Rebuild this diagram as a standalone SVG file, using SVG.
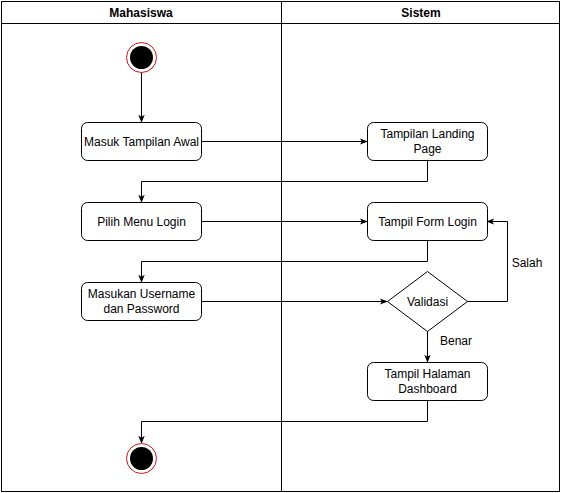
<svg xmlns="http://www.w3.org/2000/svg" width="561" height="493" viewBox="0 0 561 493">
  <style>
    text { font-family: "Liberation Sans", Arial, sans-serif; font-size: 12px; fill: #000; }
    .hdr { font-weight: bold; }
    .box { fill: #fff; stroke: #000; stroke-width: 1; }
    .lane { fill: none; stroke: #000; stroke-width: 1; }
    .edge { fill: none; stroke: #000; stroke-width: 1; marker-end: url(#arr); }
  </style>
  <defs>
    <marker id="arr" viewBox="0 0 10 10" refX="9" refY="5" markerWidth="8" markerHeight="8" markerUnits="userSpaceOnUse" orient="auto">
      <path d="M0,1 L10,5 L0,9 L2.5,5 Z" fill="#000"/>
    </marker>
  </defs>
  <rect width="561" height="493" fill="#fff"/>

  <!-- swimlanes -->
  <g id="lanes">
    <rect class="lane" x="1.5" y="1.5" width="558" height="490"/>
    <line class="lane" x1="1.5" y1="23.5" x2="559.5" y2="23.5"/>
    <line class="lane" x1="281.5" y1="1.5" x2="281.5" y2="491.5"/>
    <text class="hdr" x="141" y="17" text-anchor="middle">Mahasiswa</text>
    <text class="hdr" x="421" y="17" text-anchor="middle">Sistem</text>
  </g>

  <!-- connectors -->
  <g id="connectors">
    <path class="edge" d="M141.5,72 L141.5,122"/>
    <path class="edge" d="M201,141.5 L367,141.5"/>
    <path class="edge" d="M427.5,160 L427.5,181.5 L141.5,181.5 L141.5,202"/>
    <path class="edge" d="M201,221.5 L367,221.5"/>
    <path class="edge" d="M427.5,240 L427.5,261.5 L141.5,261.5 L141.5,282"/>
    <path class="edge" d="M201,301.5 L387,301.5"/>
    <path class="edge" d="M467,301.5 L507.5,301.5 L507.5,221.5 L487,221.5"/>
    <path class="edge" d="M427.5,331 L427.5,362"/>
    <path class="edge" d="M427.5,400 L427.5,421.5 L141.5,421.5 L141.5,443"/>
    <text x="527" y="267" text-anchor="middle">Salah</text>
    <text x="456" y="345" text-anchor="middle">Benar</text>
  </g>

  <g id="start">
    <circle cx="141.5" cy="57.5" r="15" fill="#fff" stroke="#e01010" stroke-width="1"/>
    <circle cx="141.5" cy="57.5" r="11.5" fill="#000"/>
  </g>

  <g id="masuk">
    <rect class="box" x="81.5" y="122.5" width="120" height="38" rx="6"/>
    <text x="141.5" y="145.5" text-anchor="middle">Masuk Tampilan Awal</text>
  </g>

  <g id="landing">
    <rect class="box" x="367.5" y="122.5" width="120" height="38" rx="6"/>
    <text x="427.5" y="138" text-anchor="middle">Tampilan Landing</text>
    <text x="427.5" y="153" text-anchor="middle">Page</text>
  </g>

  <g id="pilih">
    <rect class="box" x="81.5" y="202.5" width="120" height="38" rx="6"/>
    <text x="141.5" y="225.5" text-anchor="middle">Pilih Menu Login</text>
  </g>

  <g id="form">
    <rect class="box" x="367.5" y="202.5" width="120" height="38" rx="6"/>
    <text x="427.5" y="225.5" text-anchor="middle">Tampil Form Login</text>
  </g>

  <g id="masukan">
    <rect class="box" x="81.5" y="282.5" width="120" height="38" rx="6"/>
    <text x="141.5" y="298" text-anchor="middle">Masukan Username</text>
    <text x="141.5" y="313" text-anchor="middle">dan Password</text>
  </g>

  <g id="validasi">
    <path class="box" d="M427.5,271.5 L467.5,301.5 L427.5,331.5 L387.5,301.5 Z"/>
    <text x="427.5" y="305.5" text-anchor="middle">Validasi</text>
  </g>

  <g id="dashboard">
    <rect class="box" x="367.5" y="362.5" width="120" height="38" rx="6"/>
    <text x="427.5" y="378" text-anchor="middle">Tampil Halaman</text>
    <text x="427.5" y="393" text-anchor="middle">Dashboard</text>
  </g>

  <g id="end">
    <circle cx="141.5" cy="458.5" r="15" fill="#fff" stroke="#e01010" stroke-width="1"/>
    <circle cx="141.5" cy="458.5" r="11.5" fill="#000"/>
  </g>
</svg>
